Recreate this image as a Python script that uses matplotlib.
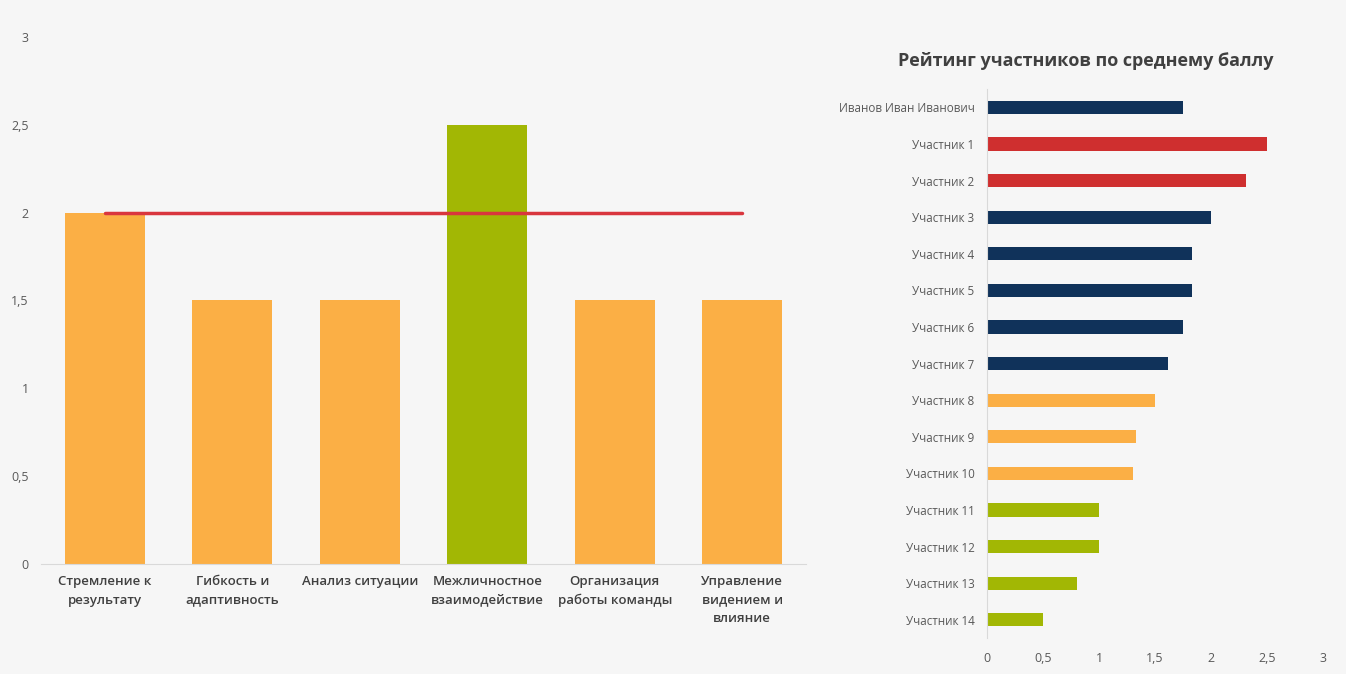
import matplotlib
matplotlib.use('Agg')
import matplotlib.pyplot as plt
import numpy as np

plt.rcParams['font.family'] = ['Open Sans', 'DejaVu Sans']

# Left chart: competency scores
competencies = ['Стремление к\nрезультату', 'Гибкость и\nадаптивность', 'Анализ ситуации',
                'Межличностное\nвзаимодействие', 'Организация\nработы команды',
                'Управление\nвидением и\nвлияние']
scores = [2.0, 1.5, 1.5, 2.5, 1.5, 1.5]
score_colors = ['#fbaf45', '#fbaf45', '#fbaf45', '#a2b704', '#fbaf45', '#fbaf45']
target = [2, 2, 2, 2, 2, 2]

# Right chart: participants rating
participants = ['Иванов Иван Иванович'] + ['Участник %d' % i for i in range(1, 15)]
avg_scores = [1.75, 2.5, 2.31, 2.0, 1.83, 1.83, 1.75, 1.62, 1.5, 1.33, 1.3, 1.0, 1.0, 0.8, 0.5]
part_colors = ['#10325a', '#cf2f2f', '#cf2f2f', '#10325a', '#10325a', '#10325a', '#10325a', '#10325a',
               '#fbaf45', '#fbaf45', '#fbaf45', '#a2b704', '#a2b704', '#a2b704', '#a2b704']

ticks = [0, 0.5, 1, 1.5, 2, 2.5, 3]
tick_labels = ['0', '0,5', '1', '1,5', '2', '2,5', '3']

bg = '#f6f6f6'
fig = plt.figure(figsize=(13.46, 6.74), dpi=100, facecolor=bg)

# ---- left chart
ax1 = fig.add_axes([0.0305, 0.1632, 0.5683, 0.782], facecolor=bg)
x = np.arange(len(competencies))
ax1.bar(x, scores, width=0.63, color=score_colors, zorder=2)
ax1.plot(x, target, color='#d9363e', linewidth=2.5, zorder=3, solid_capstyle='round')
ax1.set_xlim(-0.5, len(competencies) - 0.5)
ax1.set_ylim(0, 3)
ax1.set_yticks(ticks)
ax1.set_yticklabels(tick_labels)
ax1.set_xticks(x)
ax1.set_xticklabels(competencies, fontsize=9.5, fontweight='semibold', color='#404040', linespacing=1.55)
ax1.tick_params(axis='y', length=0, pad=9, labelsize=9, labelcolor='#595959')
ax1.tick_params(axis='x', length=0, pad=8)
for s in ['top', 'right', 'left']:
    ax1.spines[s].set_visible(False)
ax1.spines['bottom'].set_color('#d9d9d9')

# ---- right chart
ax2 = fig.add_axes([0.7333, 0.0534, 0.2496, 0.8145], facecolor=bg)
y = np.arange(len(participants))
ax2.barh(y, avg_scores, height=0.36, color=part_colors, zorder=2)
ax2.set_ylim(len(participants) - 0.5, -0.5)
ax2.set_xlim(0, 3)
ax2.set_xticks(ticks)
ax2.set_xticklabels(tick_labels)
ax2.set_yticks(y)
ax2.set_yticklabels(participants)
ax2.tick_params(axis='y', length=0, pad=9, labelsize=8.4, labelcolor='#595959')
ax2.tick_params(axis='x', length=0, pad=10, labelsize=9, labelcolor='#595959')
for s in ['top', 'right', 'bottom']:
    ax2.spines[s].set_visible(False)
ax2.spines['left'].set_color('#d9d9d9')
fig.text(0.807, 0.909, 'Рейтинг участников по среднему баллу', ha='center', va='center',
         fontsize=13, fontweight='bold', color='#404040')

fig.savefig('out.png', dpi=100, facecolor=bg)
